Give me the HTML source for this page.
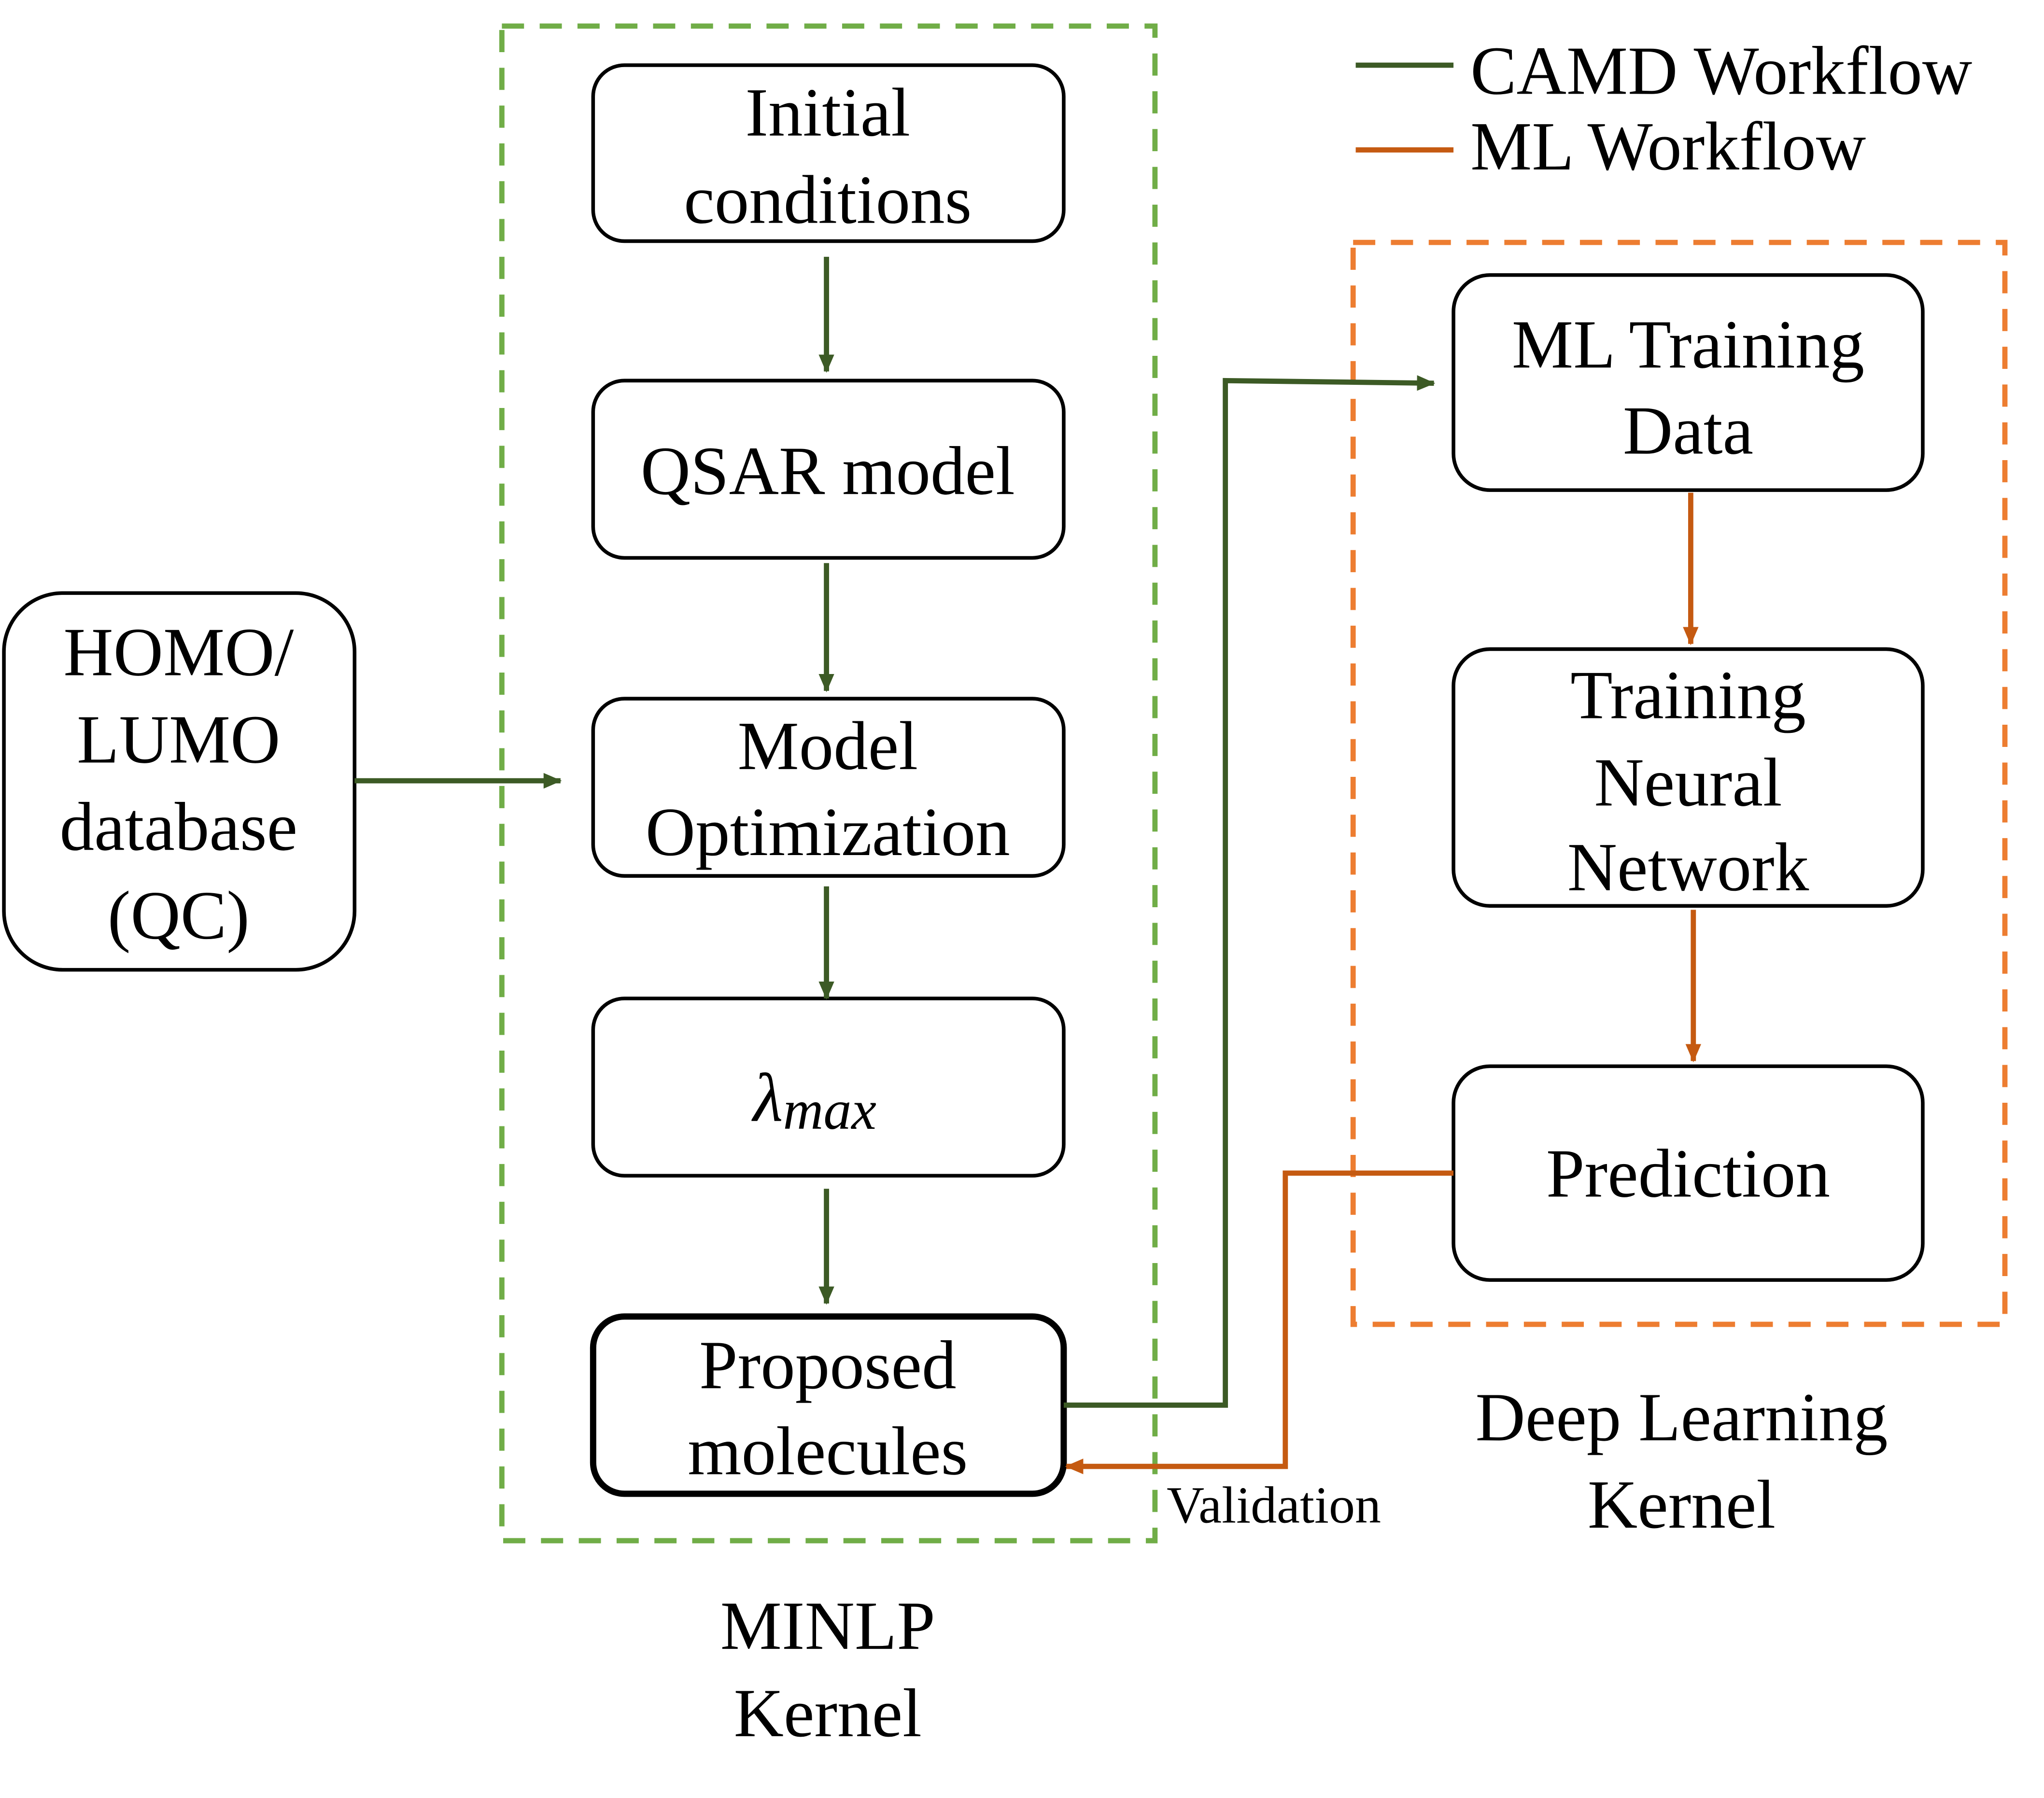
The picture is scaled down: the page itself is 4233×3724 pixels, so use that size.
<!DOCTYPE html>
<html><head><meta charset="utf-8"><style>html,body{margin:0;padding:0;background:#fff}svg{display:block}</style></head>
<body>
<svg width="4233" height="3724" viewBox="0 0 1568 1379.4" preserveAspectRatio="none" xmlns="http://www.w3.org/2000/svg" font-family="Liberation Serif, serif">
<defs>
<marker id="ag" markerWidth="14" markerHeight="12" refX="13" refY="6" orient="auto" markerUnits="userSpaceOnUse" viewBox="0 0 14 12"><path d="M0,0 L14,6 L0,12 z" fill="#3c5a25"/></marker>
<marker id="ao" markerWidth="14" markerHeight="12" refX="13" refY="6" orient="auto" markerUnits="userSpaceOnUse" viewBox="0 0 14 12"><path d="M0,0 L14,6 L0,12 z" fill="#c55a11"/></marker>
</defs>
<rect x="385" y="20" width="501" height="1162" fill="none" stroke="#70ad47" stroke-width="4" stroke-dasharray="17 12"/>
<rect x="1038" y="186" width="500" height="830" fill="none" stroke="#ed7d31" stroke-width="4" stroke-dasharray="17 12"/>
<g fill="#fff" stroke="#000" stroke-width="2.8">
<rect x="455" y="50" width="361" height="135" rx="24"/>
<rect x="455" y="292" width="361" height="136" rx="24"/>
<rect x="455" y="536" width="361" height="136" rx="24"/>
<rect x="455" y="766" width="361" height="136" rx="24"/>
<rect x="455" y="1010" width="361" height="136" rx="24" stroke-width="4.8"/>
<rect x="3" y="455" width="269" height="289" rx="45"/>
<rect x="1115" y="211" width="360" height="165" rx="28"/>
<rect x="1115" y="498" width="360" height="197" rx="28"/>
<rect x="1115" y="818" width="360" height="164" rx="28"/>
</g>
<g stroke="#3c5a25" stroke-width="4" fill="none">
<line x1="634" y1="197" x2="634" y2="285" marker-end="url(#ag)"/>
<line x1="634" y1="432" x2="634" y2="530" marker-end="url(#ag)"/>
<line x1="634" y1="680" x2="634" y2="766" marker-end="url(#ag)"/>
<line x1="634" y1="912" x2="634" y2="1000" marker-end="url(#ag)"/>
<line x1="272" y1="599" x2="430" y2="599" marker-end="url(#ag)"/>
<polyline points="816,1078 940,1078 940,292 1100,294" marker-end="url(#ag)"/>
<line x1="1040" y1="50" x2="1115" y2="50"/>
</g>
<g stroke="#c55a11" stroke-width="4" fill="none">
<line x1="1297" y1="378" x2="1297" y2="494" marker-end="url(#ao)"/>
<line x1="1299" y1="698" x2="1299" y2="814" marker-end="url(#ao)"/>
<polyline points="1115,900 986,900 986,1125 818,1125" marker-end="url(#ao)"/>
<line x1="1040" y1="115" x2="1115" y2="115"/>
</g>
<g font-size="53" text-anchor="middle" fill="#000">
<text x="635" y="104">Initial</text><text x="635" y="171">conditions</text>
<text x="635" y="379">QSAR model</text>
<text x="635" y="590">Model</text><text x="635" y="656">Optimization</text>
<text x="625" y="860" font-style="italic">λ<tspan font-size="43" dy="6">max</tspan></text>
<text x="635" y="1065">Proposed</text><text x="635" y="1131">molecules</text>
<text x="137" y="518">HOMO/</text><text x="137" y="585">LUMO</text><text x="137" y="652">database</text><text x="137" y="720">(QC)</text>
<text x="1295" y="282">ML Training</text><text x="1295" y="348">Data</text>
<text x="1295" y="551">Training</text><text x="1295" y="618">Neural</text><text x="1295" y="683">Network</text>
<text x="1295" y="918">Prediction</text>
<text x="635" y="1265">MINLP</text><text x="635" y="1332">Kernel</text>
<text x="1290" y="1105">Deep Learning</text><text x="1290" y="1172">Kernel</text>
</g>
<text x="895" y="1168" font-size="40">Validation</text>
<text x="1128" y="72" font-size="53">CAMD Workflow</text>
<text x="1128" y="130" font-size="53">ML Workflow</text>
</svg>
</body></html>
